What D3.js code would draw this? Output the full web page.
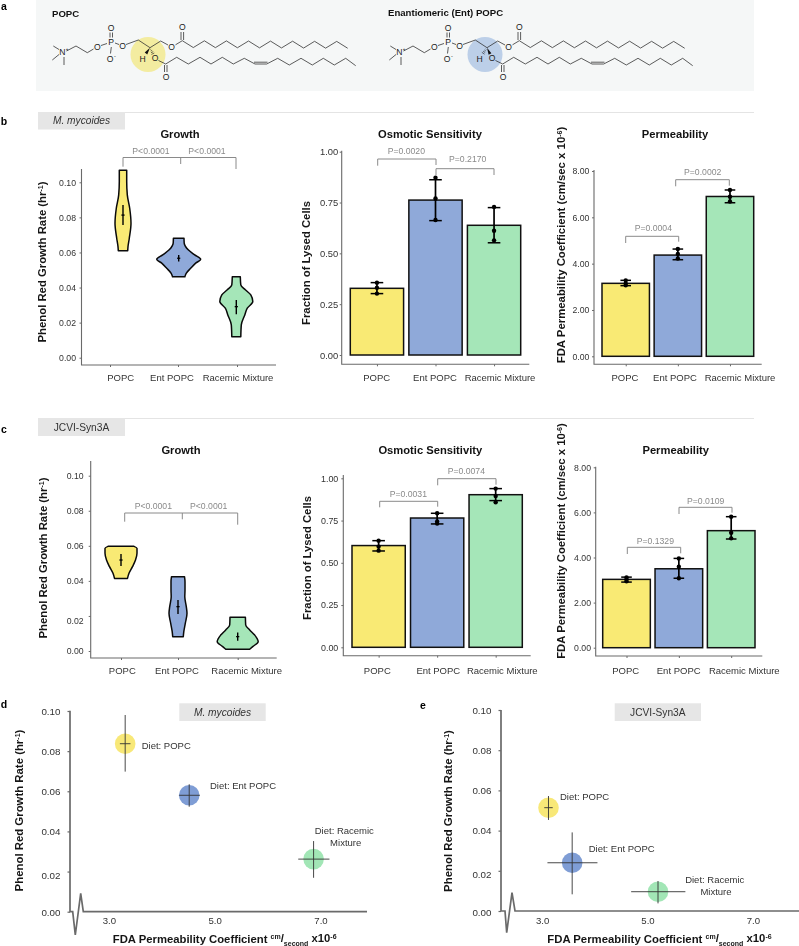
<!DOCTYPE html>
<html><head><meta charset="utf-8">
<script src="https://cdn.jsdelivr.net/npm/d3@7"></script>
<style>html,body{margin:0;padding:0;background:#fff}svg{display:block;filter:blur(.3px)}text{font-family:"Liberation Sans",Arial,sans-serif}</style>
</head><body><svg id="c" width="799" height="946"></svg>
<script>
// ---------- DATA ----------
const categories = ["POPC","Ent POPC","Racemic Mixture"];
const growthTicks = [0,0.02,0.04,0.06,0.08,0.10];
const osmoticTicks = [0,0.25,0.5,0.75,1];
const permTicks = [0,2,4,6,8];
const scatterXTicks = [3,5,7];

// violin outlines: [growth rate, density]
const violinB = [
 [[.1068,3.7],[.1004,3.7],[.0928,4.3],[.0852,6.7],[.0766,8],[.0681,6.3],[.0633,5],[.0610,4.7]],
 [[.0681,5.3],[.0653,5.5],[.0615,9.5],[.0586,16],[.0561,22],[.0539,17],[.0510,12],[.0481,7.5],[.0462,6.2]],
 [[.0462,4],[.0415,4.5],[.0387,9],[.0358,14.5],[.0320,16.5],[.0282,11],[.0244,8.5],[.0187,5],[.0120,4.5]]
];
const violinC = [
 [[.0597,13],[.0586,16],[.0557,16],[.0519,14.5],[.0481,11.5],[.0443,8],[.0414,6.5]],
 [[.0424,6.5],[.0395,7],[.0348,7],[.031,6.8],[.0253,8.3],[.0215,9],[.0158,7.3],[.011,5.8],[.0082,5.3]],
 [[.0192,7.7],[.0148,8],[.012,12],[.0091,17],[.0053,20.5],[.0025,15],[.001,12]]
];
const violinMedB = [.0813,.0567,.0291];
const violinLoB = [.0757,.0548,.0248];
const violinHiB = [.087,.0586,.0329];
const violinMedC = [.0519,.0253,.0082];
const violinLoC = [.0485,.0211,.0059];
const violinHiC = [.0553,.0291,.0105];

const osmoticB = [.328,.762,.638];
const osmoticBPts = [[.356,.331,.302],[.872,.770,.664],[.728,.611,.564]];
const osmoticBCaps = [[.302,.356],[.661,.862],[.552,.725]];
const permB = [3.15,4.37,6.9];
const permBPts = [[3.28,3.15,3.07],[4.63,4.42,4.22],[7.18,6.89,6.68]];
const permBCaps = [[3.05,3.28],[4.17,4.63],[6.63,7.18]];
const osmoticC = [.602,.765,.903];
const osmoticCPts = [[.631,.596,.572],[.793,.744,.732],[.939,.895,.858]];
const osmoticCCaps = [[.570,.631],[.730,.793],[.868,.939]];
const permC = [3.03,3.5,5.19];
const permCPts = [[3.12,3.03,2.95],[3.96,3.59,3.08],[5.81,5.10,4.85]];
const permCCaps = [[2.91,3.13],[3.08,3.96],[4.82,5.81]];

// scatter: permeability, growth, and their ranges
const scatXD = [3.3,4.51,6.86], scatYD = [.0837,.058,.0262];
const scatXRangeD = [[3.2,3.4],[4.32,4.71],[6.57,7.16]];
const scatYRangeD = [[.0698,.098],[.0523,.0635],[.0169,.0352]];
const scatXE = [3.11,3.56,5.19], scatYE = [.0514,.024,.0096];
const scatXRangeE = [[3.03,3.19],[3.09,4.04],[4.68,5.71]];
const scatYRangeE = [[.0453,.0572],[.0083,.0391],[.0038,.0149]];

// ---------- STYLE ----------
const fills = ["#f9ea74","#8fa9d9","#a5e6b8"];
const dotFills = ["#f8e878","#7f9dd5","#a2e6b6"];
const AX="#6a6a6a", BR="#8a8a8a", TK="#333";
const svg = d3.select("#c");

function txt(g,x,y,s,o={}){
  return g.append("text").attr("x",x).attr("y",y).attr("dy",".35em")
   .attr("font-size",o.fs||9.5).attr("fill",o.c||TK).attr("text-anchor",o.a||"middle")
   .attr("font-weight",o.b?"bold":null).attr("font-style",o.i?"italic":null).text(s);
}
function fit(t,len){const n=t.node(),l=n.getComputedTextLength(),f=+t.attr("font-size");t.attr("font-size",f*len/l);return t;}
function supLabel(g,x,y,parts,len){
  const t=g.append("text").attr("font-size",10).attr("font-weight","bold").attr("fill","#151515")
    .attr("text-anchor","middle")
    .attr("transform",`translate(${x},${y}) rotate(-90)`);
  let back=.35;
  parts.forEach(p=>{
    const d=p.d||0;
    t.append("tspan").attr("dy",(d+back)+"em").attr("font-size",d?"0.62em":null).text(p.t);
    back=d?-d*0.62:0;
  });
  fit(t,len);
  return t;
}
function panelTag(x0,x1,y0,y1,s,ital){
  svg.append("rect").attr("x",x0).attr("y",y0).attr("width",x1-x0).attr("height",y1-y0).attr("fill","#e6e6e6");
  txt(svg,(x0+x1)/2,(y0+y1)/2,s,{fs:10.2,i:ital,c:"#333"});
}
function bracket(g,b){
  g.append("path").attr("fill","none").attr("stroke",BR).attr("stroke-width",1)
   .attr("d",`M${b.x0},${b.d0}V${b.y}H${b.x1}V${b.d1}`+(b.xm?`M${b.xm},${b.y}V${b.dm}`:""));
}
function axes(o,y,ticks,fmt){
  const g=svg.append("g");
  g.append("path").attr("fill","none").attr("stroke",AX).attr("stroke-width",1.1)
   .attr("d",`M${o.ax},${o.top}V${o.bot}H${o.right}`);
  const a=g.append("g").attr("transform",`translate(${o.ax},0)`)
   .call(d3.axisLeft(y).tickValues(ticks).tickFormat(fmt).tickSize(2).tickPadding(o.tp).tickSizeOuter(0));
  a.select(".domain").remove();
  a.selectAll("line").attr("stroke",AX);
  a.selectAll("text").attr("font-size",o.tfs||8.7).attr("fill",TK).attr("font-family",'"Liberation Sans"');
  if(o.nudge) a.selectAll(".tick").filter(d=>o.nudge[d]).select("text").attr("transform",d=>`translate(0,${o.nudge[d]})`);
  return g;
}
function xcats(g,o,cx,labelX,ly){
  const a=g.append("g").attr("transform",`translate(0,${o.bot})`)
    .call(d3.axisBottom(d3.scaleOrdinal().domain(categories).range(cx)).tickSize(2).tickFormat(""));
  a.select(".domain").remove(); a.selectAll("line").attr("stroke",AX);
  categories.forEach((c,i)=>txt(g,labelX[i],ly,c,{fs:9.5,c:"#333"}));
}
function pTexts(g,list){list.forEach(p=>txt(g,p.x,p.y,p.s,{fs:8.66,c:"#8a8a8a"}));}

function violinPanel(o){
  const y=d3.scaleLinear().domain([0,.1]).range([o.y0,o.y1]);
  const g=axes(o,y,growthTicks,d3.format(".2f"));
  categories.forEach((c,i)=>{
    const cx=o.vx[i];
    const area=d3.area().y(d=>y(d[0])).x0(d=>cx-d[1]).x1(d=>cx+d[1]).curve(d3.curveMonotoneY);
    g.append("path").datum(o.v[i]).attr("d",d=>area(d)).attr("fill",fills[i]).attr("stroke","#0a0a0a").attr("stroke-width",1.5).attr("stroke-linejoin","round");
    g.append("line").attr("x1",cx).attr("x2",cx).attr("y1",y(o.lo[i])).attr("y2",y(o.hi[i])).attr("stroke","#000").attr("stroke-width",1.4);
    g.append("line").attr("x1",cx-1.6).attr("x2",cx+1.6).attr("y1",y(o.med[i])).attr("y2",y(o.med[i])).attr("stroke","#000").attr("stroke-width",1.3);
  });
  xcats(g,o,o.tx,o.lx,o.ly);
  o.br.forEach(b=>bracket(g,b)); pTexts(g,o.p);
  txt(g,o.tc,o.ty,"Growth",{fs:11.2,b:1,c:"#111"});
  supLabel(g,o.ylx,o.ylc,[{t:"Phenol Red Growth Rate (hr"},{t:"-1",d:-.45},{t:")"}],o.yll);
}
function barPanel(o){
  const y=d3.scaleLinear().domain([0,o.max]).range([o.y0,o.y1]);
  const g=axes(o,y,o.ticks,d3.format(".2f"));
  const x=d3.scaleBand().domain(categories).range([o.bx0,o.bx1]).paddingInner(o.pad).paddingOuter(0);
  const bw=x.bandwidth();
  g.selectAll(".bar").data(categories).join("rect").attr("x",d=>x(d)).attr("width",bw)
   .attr("y",(d,i)=>y(o.vals[i])).attr("height",(d,i)=>y(0)-y(o.vals[i]))
   .attr("fill",(d,i)=>fills[i]).attr("stroke","#111").attr("stroke-width",1.5);
  categories.forEach((c,i)=>{
    const cx=x(c)+bw/2;
    g.append("line").attr("x1",cx).attr("x2",cx).attr("y1",y(o.caps[i][0])).attr("y2",y(o.caps[i][1])).attr("stroke","#000").attr("stroke-width",1.7);
    o.caps[i].forEach(v=>g.append("line").attr("x1",cx-o.cap).attr("x2",cx+o.cap).attr("y1",y(v)).attr("y2",y(v)).attr("stroke","#000").attr("stroke-width",1.5));
    o.pts[i].forEach(v=>g.append("circle").attr("cx",cx).attr("cy",y(v)).attr("r",2.2).attr("fill","#000"));
  });
  xcats(g,o,categories.map(c=>x(c)+bw/2),o.lx,o.ly);
  o.br.forEach(b=>bracket(g,b)); pTexts(g,o.p);
  txt(g,o.tc,o.ty,o.title,{fs:11.2,b:1,c:"#111"});
  supLabel(g,o.ylx,o.ylc,o.yl,o.yll);
}
function scatterPanel(o){
  const x=d3.scaleLinear().domain([3,7]).range([o.x3,o.x7]);
  const y=d3.scaleLinear().domain([0,.1]).range([o.y0,o.y1]);
  const g=svg.append("g");
  g.append("path").attr("fill","none").attr("stroke",AX).attr("stroke-width",1.7).attr("stroke-linejoin","miter")
   .attr("d",d3.line()(o.axisPath));
  const a=g.append("g").attr("transform",`translate(${o.ax},0)`)
   .call(d3.axisLeft(y).tickValues(growthTicks).tickFormat(d3.format(".2f")).tickSize(2.5).tickPadding(7).tickSizeOuter(0));
  a.select(".domain").remove(); a.selectAll("line").attr("stroke",AX).attr("stroke-width",1.2);
  a.selectAll("text").attr("font-size",9.8).attr("fill",TK).attr("font-family",'"Liberation Sans"');
  a.selectAll(".tick").filter(d=>d===.02).select("text").attr("transform","translate(0,3.5)");
  a.selectAll(".tick").filter(d=>d===0).select("text").attr("transform","translate(0,1)");
  scatterXTicks.forEach(v=>txt(g,x(v),o.xly,d3.format(".1f")(v),{fs:9.6}));
  categories.forEach((c,i)=>{
    g.append("circle").attr("cx",x(o.xs[i])).attr("cy",y(o.ys[i])).attr("r",10.3).attr("fill",dotFills[i]);
    g.append("line").attr("x1",x(o.xs[i])).attr("x2",x(o.xs[i])).attr("y1",y(o.yr[i][0])).attr("y2",y(o.yr[i][1])).attr("stroke","#333").attr("stroke-width",.9);
    g.append("line").attr("x1",x(o.xr[i][0])).attr("x2",x(o.xr[i][1])).attr("y1",y(o.ys[i])).attr("y2",y(o.ys[i])).attr("stroke","#333").attr("stroke-width",.9);
  });
  o.notes.forEach(n=>txt(g,n.x,n.y,n.s,{fs:9.5,a:n.a,c:"#333"}));
  supLabel(g,o.ylx,o.ylc,[{t:"Phenol Red Growth Rate (hr"},{t:"-1",d:-.45},{t:")"}],o.yll);
  const xl=g.append("text").attr("font-weight","bold").attr("font-size",10).attr("fill","#151515").attr("text-anchor","middle")
    .attr("x",o.xlc).attr("y",o.xlbase);
  xl.append("tspan").text("FDA Permeability Coefficient ");
  xl.append("tspan").attr("font-size","0.62em").attr("dy","-.55em").text("cm");
  xl.append("tspan").attr("font-size","1em").attr("dy",".34em").text("/");
  xl.append("tspan").attr("font-size","0.62em").attr("dy",".5em").text("second");
  xl.append("tspan").attr("dy","-.31em").text(" x10");
  xl.append("tspan").attr("font-size","0.62em").attr("dy","-.55em").text("-6");
  fit(xl,o.xll);
}

// ---------- PANEL a ----------
svg.append("rect").attr("x",36).attr("y",0).attr("width",718).attr("height",91).attr("fill","#f5f7f7");
const L=d3.line();
function molecule(dx,highlight,wedgeToH){
  const g=svg.append("g").attr("transform",`translate(${dx},0)`);
  g.append("circle").attr("cx",148).attr("cy",54.5).attr("r",17.5).attr("fill",highlight);
  const up=[182.3,193.3,204.4,215.4,226.4,237.4,248.5,259.5,270.5,281.5,292.6,303.6,314.6,325.6,336.7,347.7]
     .map((x,i)=>[x,(i%2?47.5:40.7)+i*.05]);
  const low=[[165.7,64],[176.7,57.3],[188.3,64],[200,57.3],[211,64],[222.3,57.3],[233.3,64],[244.3,58.3],[255,64],[266.7,64],[277.7,58.3],[289.3,65],[301,58.3],[312.3,65],[323.3,58.3],[334.3,65],[345.7,58.3],[355.7,65.7]];
  const bonds=[
   [[53.3,46],[59,49.5]],[[52.3,60],[59,54.5]],[[64,57],[64,65]],
   [[66.5,51],[76,46],[87.3,52.7],[93.5,49]],[[101,45.5],[107,43.5]],
   [[110,32.5],[110,37.5]],[[112.5,32.5],[112.5,37.5]],[[111.3,47],[110.5,53.5]],
   [[115,43],[119,44.5]],[[126,44.5],[138.3,40],[150,47.7],[160.7,41],[168,45]],
   [[175.5,44.8],[182.3,40.7]],[[181,32],[181,40]],[[183.6,32],[183.6,40]],
   [[158.5,60.5],[165.7,64]],[[164.5,65],[164.5,72]],[[167,65],[167,72]],
   [[254,62.2],[267.5,62.2]],
   up,low];
  bonds.forEach(b=>g.append("path").attr("d",L(b)).attr("fill","none").attr("stroke","#333").attr("stroke-width",.8));
  [["N",62.3,51.7],["O",97.3,47],["P",111,42],["O",111,28],["O",110,58.5],["O",122.7,46],["O",171.7,46.7],["O",182.3,27.3],["H",142.7,58.5],["O",155,58.3],["O",166,76.7]]
   .forEach(a=>txt(g,a[1],a[2],a[0],{fs:8.6,c:"#222"}));
  txt(g,115,56.5,"-",{fs:5.5,c:"#222"});
  txt(g,67,49,"+",{fs:4.5,c:"#222"});
  const c=[150,47.7], H=[146,53.5], O=[153,54];
  const solid=wedgeToH?H:O, hash=wedgeToH?O:H;
  const n=[solid[1]-c[1],-(solid[0]-c[0])].map(v=>v*.22);
  g.append("path").attr("d",L([c,[solid[0]+n[0],solid[1]+n[1]],[solid[0]-n[0],solid[1]-n[1]]])+"Z").attr("fill","#111");
  d3.range(1,5).forEach(k=>{
    const t=k/4.2, mx=c[0]+(hash[0]-c[0])*t, my=c[1]+(hash[1]-c[1])*t, w=t*1.7;
    const nx=(hash[1]-c[1]),ny=-(hash[0]-c[0]),nl=Math.hypot(nx,ny);
    g.append("line").attr("x1",mx+nx/nl*w).attr("y1",my+ny/nl*w).attr("x2",mx-nx/nl*w).attr("y2",my-ny/nl*w).attr("stroke","#111").attr("stroke-width",.6);
  });
}
molecule(0,"#f3eca0",true);
molecule(337,"#bccfe8",false);
txt(svg,52,14,"POPC",{fs:9.6,b:1,a:"start",c:"#111"});
txt(svg,388,13,"Enantiomeric (Ent) POPC",{fs:9.6,b:1,a:"start",c:"#111"});

// panel letters
[["a",4,6],["b",4,121],["c",4,429],["d",4,704],["e",423,705]].forEach(d=>txt(svg,d[1],d[2],d[0],{fs:10.5,b:1,c:"#000"}));

// rules and tags
[[112.5],[418.5]].forEach(d=>svg.append("line").attr("x1",38).attr("x2",754).attr("y1",d[0]).attr("y2",d[0]).attr("stroke","#e4e4e4").attr("stroke-width",1));
panelTag(38,125,112,129.5,"M. mycoides",true);
panelTag(38,125,418,436,"JCVI-Syn3A",false);

const permLabel=[{t:"FDA Permeability Coefficient (cm/sec x 10"},{t:"-6",d:-.45},{t:")"}];
const osmLabel=[{t:"Fraction of Lysed Cells"}];

// ---------- PANEL b ----------
violinPanel({ax:81.5,tp:3.5,top:169,bot:365,right:276,y0:357.7,y1:182.3,v:violinB,med:violinMedB,lo:violinLoB,hi:violinHiB,
  vx:[123,178.7,236.3],tx:[110,178,237],lx:[120.7,172,238],ly:378,tc:180,ty:134,ylx:42,ylc:262,yll:161,
  br:[{x0:123,x1:236,y:157.5,d0:166.7,d1:169,xm:180.7,dm:164}],
  p:[{x:151,y:150.7,s:"P<0.0001"},{x:207,y:150.7,s:"P<0.0001"}]});
barPanel({ax:341.7,tp:1.5,top:150.7,bot:364.3,right:529.3,y0:355,y1:151.7,max:1,ticks:osmoticTicks,vals:osmoticB,pts:osmoticBPts,caps:osmoticBCaps,
  bx0:350.3,bx1:520.7,pad:.09,cap:6.3,lx:[376.7,435,500],ly:378,tc:430,ty:134,title:"Osmotic Sensitivity",tfs:9.4,
  ylx:305.7,ylc:263,yll:124,yl:osmLabel,
  br:[{x0:377.7,x1:436,y:159,d0:165.7,d1:165},{x0:436,x1:494,y:168.7,d0:175,d1:175}],
  p:[{x:406.3,y:150.7,s:"P=0.0020"},{x:467.7,y:158.7,s:"P=0.2170"}]});
barPanel({ax:594,tp:2.7,top:170,bot:364.3,right:761.7,y0:356.3,y1:171,max:8,ticks:permTicks,vals:permB,pts:permBPts,caps:permBCaps,
  bx0:602,bx1:753.7,pad:.09,cap:5.3,lx:[625,675,740],ly:378,tc:675,ty:134,title:"Permeability",
  ylx:560.7,ylc:245,yll:237,yl:permLabel,
  br:[{x0:625.7,x1:678.7,y:236.3,d0:243,d1:241.7},{x0:675.7,x1:729.3,y:179.7,d0:186.3,d1:185.7}],
  p:[{x:653.3,y:228.3,s:"P=0.0004"},{x:702.7,y:172,s:"P=0.0002"}]});

// ---------- PANEL c ----------
violinPanel({ax:90.7,tp:5,top:461,bot:658,right:276.7,y0:651,y1:475.7,v:violinC,med:violinMedC,lo:violinLoC,hi:violinHiC,
  vx:[121,178,237.7],tx:[121,178,237.7],lx:[122.3,177,246.7],ly:671,tc:181,ty:450.3,ylx:43.3,ylc:558,yll:161,nudge:{0.02:4.5},
  br:[{x0:124.7,x1:237.7,y:513,d0:521.7,d1:524.7,xm:182.3,dm:519.3}],
  p:[{x:153.3,y:506.3,s:"P<0.0001"},{x:208.7,y:506.3,s:"P<0.0001"}]});
barPanel({ax:343.3,tp:3,top:475,bot:655.7,right:530.7,y0:647.3,y1:478.3,max:1,ticks:osmoticTicks,vals:osmoticC,pts:osmoticCPts,caps:osmoticCCaps,
  bx0:352,bx1:522.3,pad:.09,cap:6.3,lx:[377.3,438.3,502.3],ly:671,tc:430.3,ty:450.3,title:"Osmotic Sensitivity",tfs:8.9,
  ylx:307,ylc:558,yll:124,yl:osmLabel,
  br:[{x0:379.7,x1:437.7,y:501.3,d0:507.3,d1:506.7},{x0:437.7,x1:496,y:478.7,d0:485.3,d1:484.7}],
  p:[{x:408.3,y:493.7,s:"P=0.0031"},{x:466.3,y:471,s:"P=0.0074"}]});
barPanel({ax:595.7,tp:2.7,top:466.7,bot:656,right:762.3,y0:647.7,y1:467.3,max:8,ticks:permTicks,vals:permC,pts:permCPts,caps:permCCaps,
  bx0:602.7,bx1:755,pad:.09,cap:5.3,lx:[625.7,678.7,744.3],ly:671,tc:675.7,ty:450.3,title:"Permeability",
  ylx:560.7,ylc:541,yll:236,yl:permLabel,
  br:[{x0:627.3,x1:680.7,y:547.3,d0:554,d1:553.3},{x0:679,x1:732,y:507.3,d0:514,d1:512.7}],
  p:[{x:655.3,y:541,s:"P=0.1329"},{x:705.7,y:500.7,s:"P=0.0109"}]});

// ---------- PANEL d ----------
scatterPanel({ax:70,x3:109.3,x7:321,y0:911.7,y1:711,xs:scatXD,ys:scatYD,xr:scatXRangeD,yr:scatYRangeD,xly:921,
  axisPath:[[70,710.7],[70,911.7],[72.7,911.7],[75.3,935],[80.7,893.3],[83.3,911.7],[367,911.7]],
  notes:[{x:141.7,y:745.3,s:"Diet: POPC",a:"start"},{x:210,y:785.7,s:"Diet: Ent POPC",a:"start"},{x:344.3,y:831,s:"Diet: Racemic",a:"middle"},{x:345.7,y:842.3,s:"Mixture",a:"middle"}],
  ylx:19.3,ylc:810.5,yll:162,xlc:224.7,xlbase:942.5,xll:224});
panelTag(179.3,265.7,703.3,721,"M. mycoides",true);

// ---------- PANEL e ----------
scatterPanel({ax:501,x3:542.7,x7:753.3,y0:911,y1:710,xs:scatXE,ys:scatYE,xr:scatXRangeE,yr:scatYRangeE,xly:920.5,
  axisPath:[[501,710],[501,911],[505,911],[506.7,932.7],[512,892.7],[515,911],[799,911]],
  notes:[{x:560,y:796.7,s:"Diet: POPC",a:"start"},{x:588.7,y:849,s:"Diet: Ent POPC",a:"start"},{x:714.7,y:880,s:"Diet: Racemic",a:"middle"},{x:716,y:891.7,s:"Mixture",a:"middle"}],
  ylx:448.3,ylc:811,yll:162,xlc:659.5,xlbase:942.5,xll:224.5});
panelTag(614.7,701,703.3,721,"JCVI-Syn3A",false);
</script></body></html>
